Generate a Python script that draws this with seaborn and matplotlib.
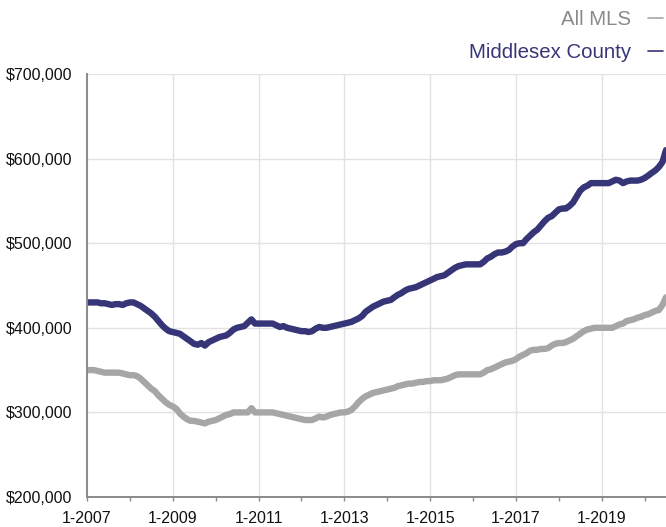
import numpy as np
import pandas as pd
import matplotlib
matplotlib.use("Agg")
import matplotlib.pyplot as plt
from matplotlib.lines import Line2D
import seaborn as sns

# ---- data (monthly median price, thousands of $), Jan 2007 .. Jul 2020 ----
start_month = "2007-01-01"
series_names = ["All MLS", "Middlesex County"]

middlesex = [
    430, 430, 430, 430, 429, 429, 428, 427, 428, 428, 427, 429,   # 2007
    430, 430, 428, 426, 423, 420, 417, 413, 408, 403, 399, 396,   # 2008
    395, 394, 393, 390, 387, 384, 381, 380, 382, 379, 383, 385,   # 2009
    387, 389, 390, 391, 394, 398, 400, 401, 402, 406, 410, 405,   # 2010
    405, 405, 405, 405, 405, 403, 401, 402, 400, 399, 398, 397,   # 2011
    396, 396, 395, 396, 399, 401, 400, 400, 401, 402, 403, 404,   # 2012
    405, 406, 407, 409, 411, 414, 419, 422, 425, 427, 429, 431,   # 2013
    432, 433, 436, 439, 441, 444, 446, 447, 448, 450, 452, 454,   # 2014
    456, 458, 460, 461, 462, 465, 468, 471, 473, 474, 475, 475,   # 2015
    475, 475, 475, 478, 482, 484, 487, 489, 489, 490, 492, 496,   # 2016
    499, 500, 500, 505, 509, 513, 516, 521, 526, 530, 532, 536,   # 2017
    540, 541, 541, 544, 548, 555, 562, 566, 568, 571, 571, 571,   # 2018
    571, 571, 571, 573, 575, 574, 571, 573, 574, 574, 574, 575,   # 2019
    577, 580, 583, 586, 590, 596, 610,                            # 2020
]

all_mls = [
    350, 350, 350, 349, 348, 347, 347, 347, 347, 347, 346, 345,   # 2007
    344, 344, 343, 340, 336, 332, 328, 325, 320, 316, 312, 309,   # 2008
    307, 304, 299, 295, 292, 290, 290, 289, 288, 287, 289, 290,   # 2009
    291, 293, 295, 297, 298, 300, 300, 300, 300, 300, 305, 300,   # 2010
    300, 300, 300, 300, 300, 299, 298, 297, 296, 295, 294, 293,   # 2011
    292, 291, 291, 291, 293, 295, 294, 295, 297, 298, 299, 300,   # 2012
    300, 301, 303, 307, 312, 316, 319, 321, 323, 324, 325, 326,   # 2013
    327, 328, 329, 331, 332, 333, 334, 334, 335, 336, 336, 337,   # 2014
    337, 338, 338, 338, 339, 340, 342, 344, 345, 345, 345, 345,   # 2015
    345, 345, 345, 347, 350, 351, 353, 355, 357, 359, 360, 361,   # 2016
    363, 366, 368, 370, 373, 374, 374, 375, 375, 376, 379, 381,   # 2017
    382, 382, 383, 385, 387, 390, 393, 396, 398, 399, 400, 400,   # 2018
    400, 400, 400, 400, 402, 404, 405, 408, 409, 410, 412, 413,   # 2019
    415, 416, 418, 420, 421, 427, 436,                            # 2020
]

y_ticks = [200000, 300000, 400000, 500000, 600000, 700000]
y_tick_labels = ["$200,000", "$300,000", "$400,000", "$500,000", "$600,000", "$700,000"]
x_tick_years = [2007, 2009, 2011, 2013, 2015, 2017, 2019]
x_tick_labels = ["1-2007", "1-2009", "1-2011", "1-2013", "1-2015", "1-2017", "1-2019"]

colors = {"All MLS": "#a6a6a6", "Middlesex County": "#363577"}
text_colors = {"All MLS": "#8a8a8a", "Middlesex County": "#363577"}

# ---- build table ----
dates = pd.date_range(start_month, periods=len(middlesex), freq="MS")
df = pd.concat([
    pd.DataFrame({"date": dates, "price": np.array(all_mls) * 1000, "series": "All MLS"}),
    pd.DataFrame({"date": dates, "price": np.array(middlesex) * 1000, "series": "Middlesex County"}),
])

sns.set_theme(style="white")
plt.rcParams["font.family"] = ["Liberation Sans", "DejaVu Sans"]

W, H = 666, 527
fig = plt.figure(figsize=(W / 100, H / 100), dpi=100)
ax = fig.add_axes([87 / W, (H - 497) / H, (W - 87) / W, (497 - 74) / H])

sns.lineplot(data=df, x="date", y="price", hue="series", hue_order=series_names,
             palette=colors, linewidth=4.6, ax=ax, legend=False)
for ln in ax.lines:
    ln.set_solid_capstyle("round")
    ln.set_solid_joinstyle("round")

ax.set_ylim(200000, 700000)
ax.set_xlim(dates[0], dates[-1])
ax.set_yticks(y_ticks)
ax.set_yticklabels(y_tick_labels)
major = [pd.Timestamp(f"{y}-01-01") for y in x_tick_years]
ax.set_xticks(major)
ax.set_xticklabels(x_tick_labels)
minor = [pd.Timestamp(f"{y}-01-01") for y in range(2008, 2021, 2)]
ax.set_xticks(minor, minor=True)

ax.set_xlabel("")
ax.set_ylabel("")
ax.grid(True, axis="both", color="#e2e2e2", linewidth=1.0)
ax.set_axisbelow(True)
for s in ["top", "right"]:
    ax.spines[s].set_visible(False)
for s in ["left", "bottom"]:
    ax.spines[s].set_color("#8a8a8a")
    ax.spines[s].set_linewidth(1.4)

ax.tick_params(axis="y", length=0, pad=10.5, labelsize=11.5, labelcolor="#111111")
ax.tick_params(axis="x", which="both", length=3, width=1, color="#8a8a8a",
               pad=7, labelsize=11.5, labelcolor="#111111", bottom=True)

handles = [Line2D([], [], color=colors[n], lw=1.2) for n in series_names]
leg = fig.legend(handles, series_names, loc="upper right",
                 bbox_to_anchor=(1.0, 1 - 7 / H), frameon=False, markerfirst=False,
                 fontsize=14.7, handlelength=0.75, handletextpad=0.8,
                 labelspacing=0.7, borderpad=0.0, borderaxespad=0.15)
for t, n in zip(leg.get_texts(), series_names):
    t.set_color(text_colors[n])

fig.savefig("out.png", dpi=100)
